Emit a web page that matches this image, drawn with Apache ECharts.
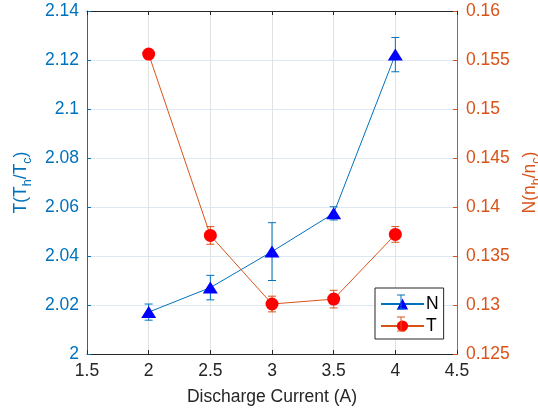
<!DOCTYPE html>
<html>
<head>
<meta charset="utf-8">
<script src="https://cdn.jsdelivr.net/npm/echarts@6/dist/echarts.min.js"></script>
<style>
  html, body { margin: 0; padding: 0; background: #fff; }
  #chart { width: 538px; height: 410px; }
</style>
</head>
<body>
<div id="chart"></div>
<script>
// data
var current = [2, 2.5, 3, 3.5, 4];
var nVals = [2.0171, 2.0271, 2.0418, 2.0574, 2.1222];
var nErr = [0.0033, 0.005, 0.0118, 0.0027, 0.007];
var tVals = [0.1556, 0.1371, 0.1301, 0.1306, 0.1372];
var tErr = [0.0001, 0.0009, 0.0008, 0.0009, 0.0008];
var xTicks = [1.5, 2, 2.5, 3, 3.5, 4, 4.5];
var leftTicks = [2, 2.02, 2.04, 2.06, 2.08, 2.1, 2.12, 2.14];
var rightTicks = [0.125, 0.13, 0.135, 0.14, 0.145, 0.15, 0.155, 0.16];

var BLUE = '#0072BD', ORANGE = '#D95319', DARK = '#262626';
var FONT = 'Liberation Sans, Arial, sans-serif';
var FS = 17.5;

function pairs(xs, ys) {
  return xs.map(function (x, i) { return [x, ys[i]]; });
}
function errData(xs, ys, es) {
  return xs.map(function (x, i) { return [x, ys[i] - es[i], ys[i] + es[i]]; });
}
function errBars(yIdx, color, data) {
  return {
    type: 'custom',
    name: 'err' + yIdx,
    xAxisIndex: 0,
    yAxisIndex: yIdx,
    z: 1,
    silent: true,
    data: data,
    encode: { x: 0, y: [1, 2] },
    renderItem: function (params, api) {
      var x = api.value(0);
      var lo = api.coord([x, api.value(1)]);
      var hi = api.coord([x, api.value(2)]);
      var w = 4;
      var st = { stroke: color, lineWidth: 1 };
      return {
        type: 'group',
        children: [
          { type: 'line', shape: { x1: lo[0], y1: lo[1], x2: hi[0], y2: hi[1] }, style: st },
          { type: 'line', shape: { x1: lo[0] - w, y1: lo[1], x2: lo[0] + w, y2: lo[1] }, style: st },
          { type: 'line', shape: { x1: hi[0] - w, y1: hi[1], x2: hi[0] + w, y2: hi[1] }, style: st }
        ]
      };
    }
  };
}
function step(t) { return +(t[1] - t[0]).toFixed(6); }
function fmt(v) { return String(+v.toFixed(4)); }

var chart = echarts.init(document.getElementById('chart'));

// small error-bar glyphs inside the legend box
function legendGlyph(cx, cy, color) {
  var st = { stroke: color, lineWidth: 1 };
  return [
    { type: 'line', shape: { x1: cx, y1: cy - 7, x2: cx, y2: cy + 7 }, style: st, z: 99 },
    { type: 'line', shape: { x1: cx - 4, y1: cy - 7, x2: cx + 4, y2: cy - 7 }, style: st, z: 99 },
    { type: 'line', shape: { x1: cx - 4, y1: cy + 7, x2: cx + 4, y2: cy + 7 }, style: st, z: 99 }
  ];
}

var option = {
  animation: false,
  textStyle: { fontFamily: FONT },
  grid: { left: 87, right: 81, top: 11, bottom: 56, outerBoundsMode: 'none' },
  legend: {
    data: ['N', 'T'],
    orient: 'vertical',
    left: 375,
    top: 288,
    padding: [7, 5, 4, 5],
    itemWidth: 43,
    itemHeight: 14,
    itemGap: 4,
    backgroundColor: '#fff',
    borderColor: '#262626',
    borderWidth: 1,
    textStyle: { color: '#000', fontSize: FS, fontFamily: FONT, padding: [0, 0, 0, -3] }
  },
  xAxis: [{
    type: 'value',
    min: xTicks[0], max: xTicks[xTicks.length - 1], interval: step(xTicks),
    name: 'Discharge Current (A)',
    nameLocation: 'middle',
    nameGap: 34,
    nameTextStyle: { color: DARK, fontSize: FS, fontFamily: FONT },
    axisLine: { lineStyle: { color: DARK, width: 1 } },
    axisTick: { inside: true, length: 4, lineStyle: { color: DARK } },
    axisLabel: { color: DARK, fontSize: FS, fontFamily: FONT, margin: 8, formatter: fmt },
    splitLine: { show: true, lineStyle: { color: '#e2e2e2', width: 1 } }
  }, {
    type: 'value',
    position: 'top',
    min: xTicks[0], max: xTicks[xTicks.length - 1], interval: step(xTicks),
    axisLine: { lineStyle: { color: DARK, width: 1 } },
    axisTick: { inside: true, length: 4, lineStyle: { color: DARK } },
    axisLabel: { show: false },
    splitLine: { show: false }
  }],
  yAxis: [{
    type: 'value',
    position: 'left',
    min: leftTicks[0], max: leftTicks[leftTicks.length - 1], interval: step(leftTicks),
    name: '{n|T(T}{s|h}{n|/T}{s|c}{n|)}',
    nameLocation: 'middle',
    nameRotate: 90,
    nameGap: 52,
    nameTextStyle: {
      color: BLUE, fontSize: FS, fontFamily: FONT,
      rich: {
        n: { color: BLUE, fontSize: FS, fontFamily: FONT },
        s: { color: BLUE, fontSize: 12.5, fontFamily: FONT, padding: [13, 0, 0, 0] }
      }
    },
    axisLine: { show: true, lineStyle: { color: BLUE, width: 1 } },
    axisTick: { show: true, inside: true, length: 4, lineStyle: { color: BLUE } },
    axisLabel: { color: BLUE, fontSize: FS, fontFamily: FONT, margin: 8, formatter: fmt },
    splitLine: { show: true, lineStyle: { color: '#dce8f3', width: 1 } }
  }, {
    type: 'value',
    position: 'right',
    min: rightTicks[0], max: rightTicks[rightTicks.length - 1], interval: step(rightTicks),
    name: '{n|N(n}{s|h}{n|/n}{s|c}{n|)}',
    nameLocation: 'middle',
    nameRotate: 90,
    nameGap: 58,
    nameTextStyle: {
      color: ORANGE, fontSize: FS, fontFamily: FONT,
      rich: {
        n: { color: ORANGE, fontSize: FS, fontFamily: FONT },
        s: { color: ORANGE, fontSize: 12.5, fontFamily: FONT, padding: [13, 0, 0, 0] }
      }
    },
    axisLine: { show: true, lineStyle: { color: ORANGE, width: 1 } },
    axisTick: { show: true, inside: true, length: 4, lineStyle: { color: ORANGE } },
    axisLabel: { color: ORANGE, fontSize: FS, fontFamily: FONT, margin: 9, formatter: fmt },
    splitLine: { show: false }
  }],
  graphic: legendGlyph(401, 302, BLUE).concat(legendGlyph(401, 324, ORANGE)),
  series: [
    errBars(0, BLUE, errData(current, nVals, nErr)),
    errBars(1, ORANGE, errData(current, tVals, tErr)),
    {
      name: 'N',
      type: 'line',
      xAxisIndex: 0,
      yAxisIndex: 0,
      z: 3,
      data: pairs(current, nVals),
      symbol: 'triangle',
      symbolSize: [15, 12],
      showAllSymbol: true,
      lineStyle: { color: BLUE, width: 1 },
      itemStyle: { color: '#0000FF', borderWidth: 0 }
    },
    {
      name: 'T',
      type: 'line',
      xAxisIndex: 0,
      yAxisIndex: 1,
      z: 3,
      data: pairs(current, tVals),
      symbol: 'circle',
      symbolSize: 13,
      showAllSymbol: true,
      lineStyle: { color: ORANGE, width: 1 },
      itemStyle: { color: '#FF0000', borderWidth: 0 }
    }
  ]
};
chart.setOption(option);
</script>
</body>
</html>
